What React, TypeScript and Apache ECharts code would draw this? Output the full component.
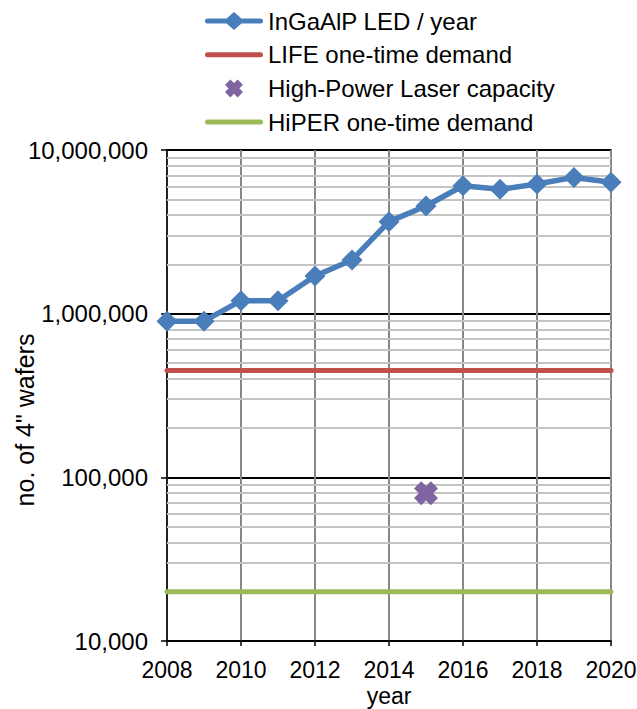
import React, { useEffect, useRef } from "react";
import * as echarts from "echarts";

const years = [2008, 2009, 2010, 2011, 2012, 2013, 2014, 2015, 2016, 2017, 2018, 2019, 2020];
const ledWafers = [900000, 900000, 1200000, 1200000, 1700000, 2130000, 3650000, 4550000, 6050000, 5750000, 6200000, 6800000, 6350000];
const lifeDemand = 450000;
const laserYear = 2015;
const laserCapacity = 80000;
const hiperDemand = 20000;
const xRange = [2008, 2020];
const yRange = [10000, 10000000];
const minorGridValues = [
  20000, 30000, 40000, 50000, 60000, 70000, 80000, 90000,
  200000, 300000, 400000, 500000, 600000, 700000, 800000, 900000,
  2000000, 3000000, 4000000, 5000000, 6000000, 7000000, 8000000, 9000000,
];
const seriesNames = [
  "InGaAlP LED / year",
  "LIFE one-time demand",
  "High-Power Laser capacity",
  "HiPER one-time demand",
];
const yAxisTitle = 'no. of 4" wafers';
const xAxisTitle = "year";

const FONT = "'Liberation Sans', Arial, sans-serif";
const X_PATH = "path://M0,3 L3,0 L5,2 L7,0 L10,3 L8,5 L10,7 L7,10 L5,8 L3,10 L0,7 L2,5 Z";
// legend icons drawn in a 58 x 18 box
const LINE_ICON = "path://M0,0 L0.01,0 L0.01,0.01 Z M2.5,6.5 L55.5,6.5 A2.5,2.5 0 0 1 55.5,11.5 L2.5,11.5 A2.5,2.5 0 0 1 2.5,6.5 Z M0,18 L0.01,18 L0.01,17.99 Z";
const LINE_DIAMOND_ICON = "path://M0,0 L0.01,0 L0.01,0.01 Z M2.5,6.5 L21.5,6.5 L29,0 L36.5,6.5 L55.5,6.5 A2.5,2.5 0 0 1 55.5,11.5 L36.5,11.5 L29,18 L21.5,11.5 L2.5,11.5 A2.5,2.5 0 0 1 2.5,6.5 Z";

export default function App() {
  const ref = useRef<HTMLDivElement>(null);
  useEffect(() => {
    document.body.style.margin = "0";
    const chart = echarts.init(ref.current!, null, { renderer: "svg" });
    chart.setOption({
      animation: false,
      textStyle: { fontFamily: FONT },
      grid: {
        left: 167, right: 26, top: 150, bottom: 68,
        containLabel: false,
        outerBoundsMode: "none",
        show: true, borderColor: "#000", borderWidth: 1.5, backgroundColor: "transparent",
      },
      legend: {
        orient: "vertical",
        left: 205,
        top: 9,
        padding: 0,
        itemWidth: 58,
        itemHeight: 18,
        itemGap: 9.7,
        itemStyle: { borderWidth: 0 },
        textStyle: { fontSize: 24, color: "#000", fontFamily: FONT, lineHeight: 24 },
        data: [
          { name: seriesNames[0], icon: LINE_DIAMOND_ICON },
          { name: seriesNames[1], icon: LINE_ICON },
          { name: seriesNames[2] },
          { name: seriesNames[3], icon: LINE_ICON },
        ],
      },
      graphic: [
        {
          type: "text",
          x: 25,
          y: 420,
          rotation: Math.PI / 2,
          style: {
            text: yAxisTitle,
            fontSize: 25,
            fontFamily: FONT,
            fill: "#000",
            align: "center",
            verticalAlign: "middle",
          },
        },
      ],
      xAxis: {
        type: "value",
        min: xRange[0],
        max: xRange[1],
        interval: 2,
        name: xAxisTitle,
        nameLocation: "middle",
        nameGap: 43.5,
        nameMoveOverlap: false,
        nameTextStyle: { fontSize: 23, color: "#000", fontFamily: FONT, lineHeight: 23 },
        axisLine: { lineStyle: { color: "#000", width: 1.5 } },
        axisTick: { show: true, length: 5, lineStyle: { color: "#000", width: 1.5 } },
        axisLabel: { fontSize: 23, lineHeight: 23, color: "#000", margin: 17, formatter: (v: number) => String(v) },
        splitLine: { show: true, lineStyle: { color: "#878787", width: 2 } },
      },
      yAxis: {
        type: "log",
        logBase: 10,
        min: yRange[0],
        max: yRange[1],
        axisLine: { show: true, lineStyle: { color: "#000", width: 1.5 } },
        axisTick: { show: true, length: 6, lineStyle: { color: "#000", width: 1.5 } },
        axisLabel: {
          fontSize: 24, color: "#000", margin: 19,
          formatter: (v: number) => Math.round(v).toLocaleString("en-US"),
        },
        splitLine: { show: true, lineStyle: { color: "#000", width: 2 } },
      },
      series: [
        {
          name: "minor",
          type: "line",
          data: [],
          silent: true,
          z: 1,
          markLine: {
            silent: true,
            z: 1,
            symbol: "none",
            label: { show: false },
            lineStyle: { color: "#c4c4c4", width: 2, type: "solid" },
            data: minorGridValues.map((v) => ({ yAxis: v })),
          },
        },
        {
          name: seriesNames[0],
          type: "line",
          z: 5,
          data: years.map((y, i) => [y, ledWafers[i]]),
          symbol: "diamond",
          symbolSize: 21,
          itemStyle: { color: "#4a7ebb" },
          lineStyle: { color: "#4a7ebb", width: 5.5 },
        },
        {
          name: seriesNames[1],
          type: "line",
          z: 4,
          data: [[xRange[0], lifeDemand], [xRange[1], lifeDemand]],
          symbol: "none",
          itemStyle: { color: "#c0504d" },
          lineStyle: { color: "#c0504d", width: 5, cap: "round" },
        },
        {
          name: seriesNames[2],
          type: "scatter",
          z: 6,
          data: [[laserYear, laserCapacity]],
          symbol: X_PATH,
          symbolSize: 24,
          itemStyle: { color: "#8064a2", opacity: 1 },
        },
        {
          name: seriesNames[3],
          type: "line",
          z: 4,
          data: [[xRange[0], hiperDemand], [xRange[1], hiperDemand]],
          symbol: "none",
          itemStyle: { color: "#9bbb59" },
          lineStyle: { color: "#9bbb59", width: 5, cap: "round" },
        },
      ],
    });
    return () => chart.dispose();
  }, []);
  return <div ref={ref} style={{ width: 637, height: 709 }} />;
}
